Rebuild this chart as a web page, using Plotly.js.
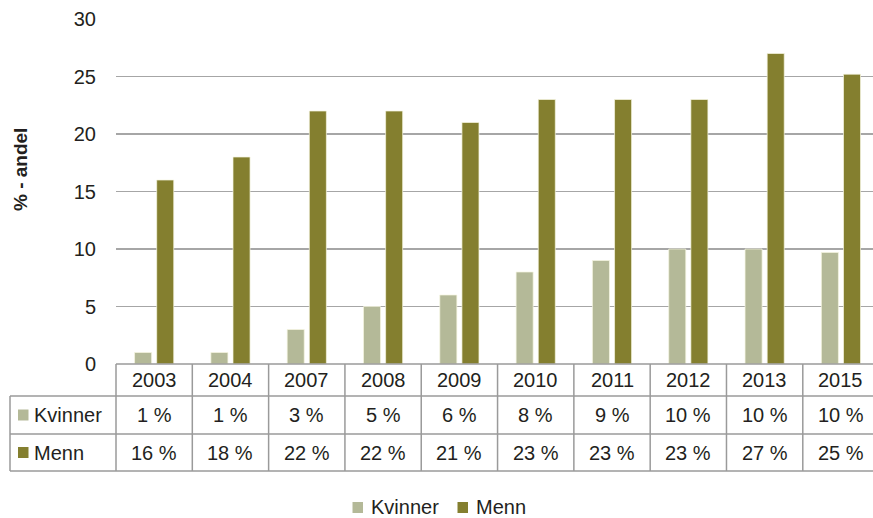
<!DOCTYPE html>
<html>
<head>
<meta charset="utf-8">
<script src="https://cdn.plot.ly/plotly-3.0.1.min.js"></script>
<style>
  html, body { margin: 0; padding: 0; background: #fff; }
  #chart { width: 873px; height: 518px; }
</style>
</head>
<body>
<div id="chart"></div>
<script>
// Andel (%) per år, kvinner og menn
const years = ['2003', '2004', '2007', '2008', '2009', '2010', '2011', '2012', '2013', '2015'];
const kvinner = [1, 1, 3, 5, 6, 8, 9, 10, 10, 9.7];
const menn = [16, 18, 22, 22, 21, 23, 23, 23, 27, 25.2];
const seriesNames = ['Kvinner', 'Menn'];
const yTicks = [0, 5, 10, 15, 20, 25, 30];

const colors = ['#b4b998', '#847f2f'];
const textColor = '#231f20';
const gridColor = '#a6a6a6';
const tableColor = '#9a9a9a';
const FONT = 'Liberation Sans, Arial, sans-serif';

// plot area in pixels
const W = 873, H = 518;
const M = { l: 116, r: 0, t: 19, b: 154 };
const plotW = W - M.l - M.r;
const plotH = H - M.t - M.b;
const plotBottom = H - M.b;

const toPaperX = px => (px - M.l) / plotW;
const toPaperY = py => (plotBottom - py) / plotH;

// the last column runs slightly past the right edge
const n = years.length;
const xRange = [-0.5, n - 0.58];
const span = xRange[1] - xRange[0];
const catPaper = v => (v - xRange[0]) / span;   // category index -> paper x

// table rows (pixel y): header, Kvinner, Menn
const rowEdges = [plotBottom, 396, 434, 471];
const labelLeft = 10;

const fmt = v => Math.round(v) + ' %';

const traces = [kvinner, menn].map((vals, i) => ({
  type: 'bar',
  name: seriesNames[i],
  x: years,
  y: vals,
  marker: { color: colors[i], line: { color: 'rgba(245,245,225,0.9)', width: 0.8 } },
  hoverinfo: 'x+y+name'
}));

const shapes = [];
const annotations = [];
const line = { color: tableColor, width: 1.5 };

// small colour key + label
function key(s, pxLeft, pyMid, textLeft, font) {
  shapes.push({
    type: 'rect', xref: 'paper', yref: 'paper',
    x0: toPaperX(pxLeft), x1: toPaperX(pxLeft + 10.5),
    y0: toPaperY(pyMid + 5.5), y1: toPaperY(pyMid - 5.5),
    fillcolor: colors[s], line: { width: 0 }
  });
  annotations.push({ xref: 'paper', yref: 'paper', x: toPaperX(textLeft), y: toPaperY(pyMid),
    text: seriesNames[s], showarrow: false, font,
    xanchor: 'left', yanchor: 'middle' });
}

// horizontal table lines
rowEdges.forEach((py, r) => {
  shapes.push({
    type: 'line', xref: 'paper', yref: 'paper',
    x0: r === 0 ? 0 : toPaperX(labelLeft), x1: 1,
    y0: toPaperY(py), y1: toPaperY(py), line
  });
});
// vertical table lines at category boundaries
for (let i = 0; i <= n; i++) {
  const xp = catPaper(i - 0.5);
  if (xp > 1) continue;
  shapes.push({
    type: 'line', xref: 'paper', yref: 'paper',
    x0: xp, x1: xp,
    y0: toPaperY(rowEdges[0]), y1: toPaperY(rowEdges[3]), line
  });
}
shapes.push({
  type: 'line', xref: 'paper', yref: 'paper',
  x0: toPaperX(labelLeft), x1: toPaperX(labelLeft),
  y0: toPaperY(rowEdges[1]), y1: toPaperY(rowEdges[3]), line
});

const cellFont = { family: FONT, size: 20, color: textColor };
const midPx = r => (rowEdges[r] + rowEdges[r + 1]) / 2;

// header row: years
years.forEach((yr, i) => {
  annotations.push({ xref: 'paper', yref: 'paper', x: catPaper(i), y: toPaperY(midPx(0)), text: yr,
    showarrow: false, font: cellFont, xanchor: 'center', yanchor: 'middle' });
});
// series rows
[kvinner, menn].forEach((vals, s) => {
  const pyMid = midPx(s + 1);
  key(s, 18, pyMid, 32, cellFont);
  vals.forEach((v, i) => {
    annotations.push({ xref: 'paper', yref: 'paper', x: catPaper(i), y: toPaperY(pyMid), text: fmt(v),
      showarrow: false, font: cellFont, xanchor: 'center', yanchor: 'middle' });
  });
});

// legend below the table
key(0, 352.5, 507.5, 369, cellFont);
key(1, 457.5, 507.5, 474, cellFont);

// y-axis title
annotations.push({
  xref: 'paper', yref: 'paper', x: toPaperX(20), y: toPaperY(170),
  text: '<b>% - andel</b>', textangle: -90, showarrow: false,
  font: { family: FONT, size: 19, color: textColor },
  xanchor: 'center', yanchor: 'middle'
});

const layout = {
  width: W, height: H,
  margin: M,
  paper_bgcolor: '#fff', plot_bgcolor: '#fff',
  font: { family: FONT, size: 20, color: textColor },
  barmode: 'group',
  bargap: 0.42,
  bargroupgap: 0.23,
  showlegend: false,
  xaxis: {
    type: 'category',
    range: xRange,
    showticklabels: false,
    showgrid: false,
    zeroline: false,
    showline: false,
    ticks: ''
  },
  yaxis: {
    range: [0, 30],
    tickvals: yTicks,
    ticktext: yTicks.map(String),
    showgrid: true,
    gridcolor: gridColor,
    gridwidth: 1.5,
    zeroline: false,
    showline: false,
    ticks: '',
    ticklabelstandoff: 19,
    tickfont: { family: FONT, size: 20, color: textColor }
  },
  shapes,
  annotations
};

Plotly.newPlot('chart', traces, layout, { displayModeBar: false, staticPlot: true });
</script>
</body>
</html>
